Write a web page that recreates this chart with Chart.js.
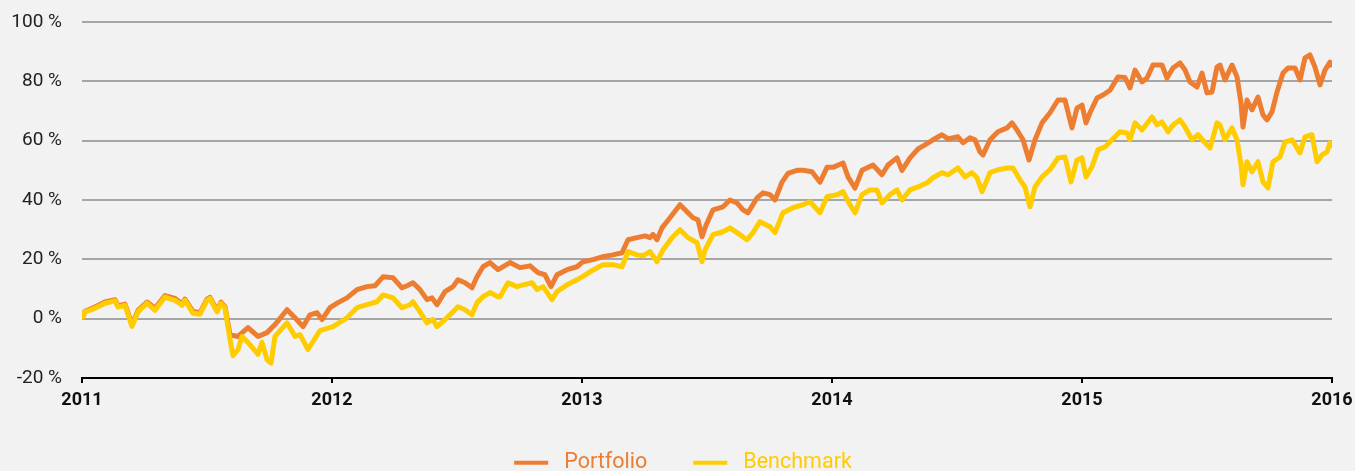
<!DOCTYPE html>
<html>
<head>
<meta charset="utf-8">
<script src="https://cdn.jsdelivr.net/npm/chart.js@4.4.1/dist/chart.umd.min.js"></script>
<style>
  html, body { margin: 0; padding: 0; background: #f2f2f2; }
  #wrap { width: 1355px; height: 471px; position: relative; }
</style>
</head>
<body>
<div id="wrap"><canvas id="chart"></canvas></div>
<script>
// dates as decimal years, values in %
const portfolioDates = [
  2011.000, 2011.012, 2011.052, 2011.092, 2011.132, 2011.144, 2011.172, 2011.200, 2011.224, 2011.260,
  2011.292, 2011.332, 2011.372, 2011.400, 2011.412, 2011.444, 2011.472, 2011.500, 2011.512, 2011.540,
  2011.556, 2011.572, 2011.592, 2011.624, 2011.664, 2011.704, 2011.740, 2011.772, 2011.820, 2011.852,
  2011.884, 2011.912, 2011.940, 2011.960, 2011.992, 2012.024, 2012.060, 2012.100, 2012.140, 2012.172,
  2012.204, 2012.244, 2012.280, 2012.300, 2012.324, 2012.352, 2012.380, 2012.400, 2012.420, 2012.452,
  2012.484, 2012.504, 2012.532, 2012.560, 2012.580, 2012.604, 2012.632, 2012.664, 2012.712, 2012.752,
  2012.792, 2012.824, 2012.852, 2012.876, 2012.900, 2012.940, 2012.980, 2013.004, 2013.044, 2013.084,
  2013.124, 2013.160, 2013.184, 2013.220, 2013.252, 2013.272, 2013.284, 2013.300, 2013.320, 2013.352,
  2013.392, 2013.420, 2013.444, 2013.464, 2013.480, 2013.496, 2013.524, 2013.564, 2013.592, 2013.620,
  2013.644, 2013.664, 2013.700, 2013.724, 2013.752, 2013.772, 2013.800, 2013.824, 2013.860, 2013.884,
  2013.920, 2013.952, 2013.980, 2014.004, 2014.044, 2014.064, 2014.092, 2014.120, 2014.164, 2014.200,
  2014.224, 2014.260, 2014.280, 2014.312, 2014.344, 2014.372, 2014.404, 2014.440, 2014.464, 2014.504,
  2014.524, 2014.552, 2014.572, 2014.592, 2014.604, 2014.632, 2014.664, 2014.700, 2014.720, 2014.740,
  2014.764, 2014.788, 2014.812, 2014.840, 2014.872, 2014.904, 2014.932, 2014.960, 2014.980, 2015.000,
  2015.016, 2015.032, 2015.060, 2015.084, 2015.112, 2015.144, 2015.172, 2015.192, 2015.212, 2015.240,
  2015.260, 2015.284, 2015.320, 2015.340, 2015.364, 2015.392, 2015.412, 2015.432, 2015.460, 2015.480,
  2015.500, 2015.520, 2015.540, 2015.552, 2015.572, 2015.600, 2015.620, 2015.636, 2015.644, 2015.660,
  2015.680, 2015.704, 2015.724, 2015.740, 2015.760, 2015.780, 2015.804, 2015.824, 2015.852, 2015.872,
  2015.892, 2015.912, 2015.932, 2015.952, 2015.972, 2015.992, 2016.000
];
const portfolioValues = [
  0, 2.5, 3.9, 5.6, 6.4, 4.3, 4.9, -2.0, 2.8, 5.6,
  3.5, 7.8, 6.8, 5.0, 6.6, 2.4, 2.0, 6.6, 7.2, 2.8,
  5.6, 4.0, -5.4, -6.0, -3.0, -6.0, -4.7, -2.0, 3.0, 0.3,
  -2.7, 1.3, 2.0, -0.3, 3.7, 5.4, 7.0, 9.8, 10.8, 11.1,
  14.1, 13.8, 10.4, 11.1, 12.1, 9.8, 6.4, 7.0, 4.7, 9.1,
  10.8, 13.1, 12.1, 10.4, 14.1, 17.5, 18.9, 16.5, 18.9, 17.2,
  17.8, 15.5, 14.8, 10.8, 14.8, 16.5, 17.5, 19.2, 19.9, 20.9,
  21.5, 22.2, 26.6, 27.3, 27.9, 27.3, 28.4, 26.6, 30.6, 34.0,
  38.4, 36.0, 34.0, 33.3, 27.6, 31.5, 36.7, 37.7, 40.0, 39.0,
  36.7, 35.7, 40.7, 42.4, 41.8, 40.0, 46.0, 49.0, 50.0, 50.0,
  49.5, 46.0, 51.0, 51.0, 52.5, 47.8, 44.0, 50.0, 51.8, 48.5,
  51.8, 54.2, 50.0, 54.2, 57.2, 58.6, 60.3, 62.0, 60.6, 61.3,
  59.3, 61.0, 60.3, 56.2, 55.2, 60.3, 63.0, 64.3, 66.0, 63.6,
  60.3, 53.5, 60.3, 66.0, 69.4, 73.7, 73.7, 64.3, 71.0, 72.0,
  66.0, 69.4, 74.4, 75.4, 77.0, 81.5, 81.3, 77.8, 83.8, 79.8,
  81.1, 85.5, 85.5, 81.1, 84.5, 86.2, 83.8, 79.8, 78.1, 82.8,
  76.1, 76.4, 84.8, 85.5, 80.5, 85.5, 81.5, 72.7, 64.6, 73.7,
  70.4, 74.7, 68.7, 67.0, 69.7, 76.4, 82.8, 84.5, 84.5, 80.5,
  87.9, 88.9, 84.8, 78.8, 83.8, 86.5, 84.8
];

const benchmarkDates = [
  2011.000, 2011.012, 2011.052, 2011.092, 2011.132, 2011.144, 2011.172, 2011.200, 2011.224, 2011.260,
  2011.292, 2011.332, 2011.372, 2011.400, 2011.412, 2011.444, 2011.472, 2011.500, 2011.512, 2011.540,
  2011.556, 2011.572, 2011.592, 2011.604, 2011.624, 2011.640, 2011.664, 2011.704, 2011.720, 2011.740,
  2011.756, 2011.772, 2011.820, 2011.852, 2011.872, 2011.904, 2011.952, 2012.004, 2012.060, 2012.100,
  2012.140, 2012.180, 2012.204, 2012.244, 2012.280, 2012.312, 2012.324, 2012.352, 2012.380, 2012.404,
  2012.420, 2012.452, 2012.484, 2012.504, 2012.532, 2012.560, 2012.580, 2012.604, 2012.632, 2012.664,
  2012.672, 2012.704, 2012.740, 2012.764, 2012.800, 2012.820, 2012.844, 2012.880, 2012.900, 2012.940,
  2012.980, 2013.000, 2013.032, 2013.084, 2013.124, 2013.160, 2013.184, 2013.220, 2013.244, 2013.272,
  2013.300, 2013.324, 2013.360, 2013.392, 2013.424, 2013.460, 2013.480, 2013.492, 2013.524, 2013.564,
  2013.592, 2013.620, 2013.660, 2013.684, 2013.712, 2013.752, 2013.772, 2013.804, 2013.844, 2013.884,
  2013.912, 2013.952, 2013.980, 2014.020, 2014.044, 2014.072, 2014.092, 2014.120, 2014.152, 2014.180,
  2014.200, 2014.232, 2014.260, 2014.280, 2014.312, 2014.344, 2014.380, 2014.404, 2014.440, 2014.464,
  2014.504, 2014.532, 2014.560, 2014.580, 2014.600, 2014.632, 2014.664, 2014.700, 2014.724, 2014.752,
  2014.772, 2014.792, 2014.812, 2014.840, 2014.872, 2014.904, 2014.932, 2014.956, 2014.980, 2015.000,
  2015.016, 2015.040, 2015.064, 2015.092, 2015.120, 2015.152, 2015.180, 2015.192, 2015.212, 2015.240,
  2015.280, 2015.300, 2015.320, 2015.344, 2015.364, 2015.392, 2015.412, 2015.440, 2015.464, 2015.492,
  2015.512, 2015.540, 2015.552, 2015.572, 2015.600, 2015.620, 2015.636, 2015.644, 2015.660, 2015.680,
  2015.704, 2015.724, 2015.744, 2015.764, 2015.792, 2015.812, 2015.840, 2015.872, 2015.892, 2015.920,
  2015.940, 2015.960, 2015.980, 2015.992, 2016.000
];
const benchmarkValues = [
  0, 2.3, 3.5, 5.2, 6.0, 3.9, 4.5, -2.6, 2.3, 5.2,
  2.8, 7.3, 6.2, 4.5, 6.2, 1.8, 1.5, 6.2, 6.8, 2.3,
  5.2, 3.5, -7.0, -12.5, -10.4, -6.0, -8.0, -12.0, -8.0, -13.8,
  -15.0, -6.0, -1.4, -6.0, -5.4, -10.4, -4.0, -2.7, 0.3, 3.7,
  4.7, 5.7, 8.0, 7.0, 3.7, 4.7, 5.7, 2.3, -1.4, -0.3,
  -2.7, -0.3, 2.3, 4.0, 3.0, 1.3, 5.4, 7.4, 8.8, 7.4,
  7.4, 12.1, 10.8, 11.4, 12.1, 9.8, 10.8, 6.4, 9.1, 11.4,
  13.1, 14.1, 15.8, 18.2, 18.2, 17.5, 22.6, 21.5, 21.2, 22.6,
  19.2, 23.2, 27.3, 30.0, 27.3, 25.6, 19.2, 23.2, 28.3, 29.3,
  30.6, 29.0, 26.6, 29.0, 32.7, 31.0, 29.0, 35.7, 37.4, 38.4,
  39.4, 35.7, 41.1, 41.8, 42.8, 38.4, 35.7, 41.8, 43.4, 43.4,
  39.0, 41.8, 43.4, 40.0, 43.4, 44.4, 45.8, 47.5, 49.2, 48.5,
  50.8, 47.8, 49.2, 47.5, 42.8, 49.2, 50.2, 50.8, 50.8, 46.8,
  44.4, 37.7, 44.4, 47.8, 50.2, 54.2, 54.5, 46.1, 53.5, 54.2,
  47.8, 51.2, 57.0, 57.9, 60.3, 63.0, 62.6, 60.3, 66.0, 63.6,
  68.0, 65.3, 66.3, 63.0, 65.3, 67.0, 64.6, 60.3, 62.0, 59.3,
  57.5, 66.0, 65.3, 60.3, 64.3, 60.3, 51.9, 45.1, 52.9, 49.5,
  52.9, 46.1, 44.1, 52.9, 54.5, 59.6, 60.3, 55.9, 61.3, 62.0,
  52.9, 55.2, 56.2, 59.3, 57.5
];

const yearTicks = [2011, 2012, 2013, 2014, 2015, 2016];
const seriesNames = ['Portfolio', 'Benchmark'];
const seriesColors = ['#ED7D31', '#FFCC00'];

function toPoints(dates, values) {
  return dates.map((d, i) => ({ x: d, y: values[i] }));
}

function lineDataset(i, dates, values, order) {
  return {
    label: seriesNames[i],
    data: toPoints(dates, values),
    borderColor: seriesColors[i],
    backgroundColor: seriesColors[i],
    borderWidth: 5,
    pointRadius: 0,
    tension: 0,
    borderJoinStyle: 'round',
    order: order
  };
}

// nudge the legend row a bit to the right, like the original
const legendShift = {
  id: 'legendShift',
  afterLayout(chart) { chart.legend.left = 34; }
};

new Chart(document.getElementById('chart'), {
  type: 'line',
  data: {
    datasets: [
      lineDataset(0, portfolioDates, portfolioValues, 2),
      lineDataset(1, benchmarkDates, benchmarkValues, 1)   // drawn on top
    ]
  },
  plugins: [legendShift],
  options: {
    responsive: true,
    maintainAspectRatio: false,
    animation: false,
    layout: { padding: { left: 12, right: 23, top: 22, bottom: 0 } },
    plugins: {
      tooltip: { enabled: false },
      legend: {
        position: 'bottom',
        maxHeight: 65,
        labels: {
          boxWidth: 34,
          boxHeight: 4,
          padding: 46,
          font: { family: 'Roboto', size: 21.5 },
          sort: (a, b) => a.datasetIndex - b.datasetIndex,
          generateLabels: (chart) => {
            const items = Chart.defaults.plugins.legend.labels.generateLabels(chart);
            items.forEach(it => {
              it.text = ' ' + it.text;
              it.fontColor = seriesColors[it.datasetIndex];
              it.fillStyle = seriesColors[it.datasetIndex];
              it.strokeStyle = seriesColors[it.datasetIndex];
              it.lineWidth = 0;
            });
            return items;
          }
        }
      }
    },
    scales: {
      x: {
        type: 'linear',
        min: 2011,
        max: 2016,
        afterBuildTicks: (scale) => { scale.ticks = yearTicks.map(v => ({ value: v })); },
        afterFit: (scale) => { scale.height = 28; scale.paddingLeft = 0; scale.paddingRight = 0; },
        ticks: {
          callback: (v) => String(v),
          color: '#111',
          font: { family: 'Roboto', size: 18, weight: 'bold' },
          padding: 7,
          maxRotation: 0
        },
        grid: { drawOnChartArea: false, drawTicks: true, tickLength: 5, color: '#000', lineWidth: 2 },
        border: { color: '#000', width: 2 }
      },
      y: {
        min: -20,
        max: 100,
        afterFit: (scale) => { scale.width = 70; scale.paddingTop = 0; scale.paddingBottom = 0; },
        ticks: {
          stepSize: 20,
          callback: (v) => v + ' %',
          color: '#222',
          font: { family: 'Roboto', size: 19 },
          padding: 20
        },
        grid: { color: '#a6a6a6', lineWidth: 2, drawTicks: false },
        border: { display: false }
      }
    }
  }
});
</script>
</body>
</html>
